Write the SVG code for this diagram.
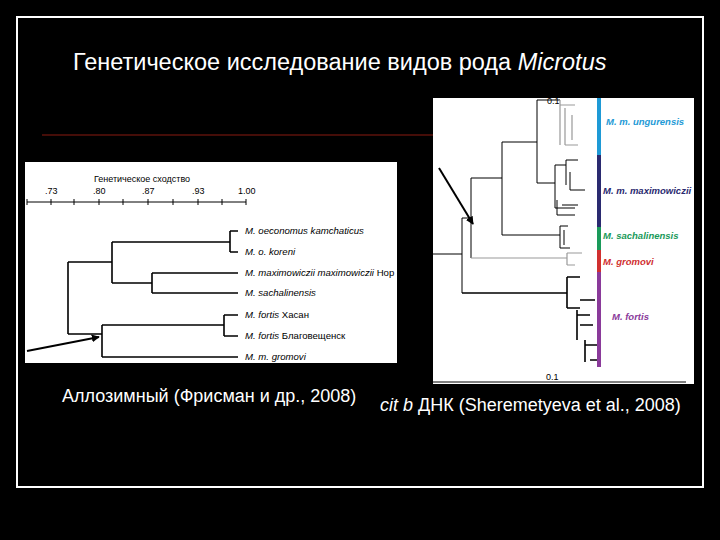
<svg xmlns="http://www.w3.org/2000/svg" width="720" height="540" viewBox="0 0 720 540">
<style>
.w{font-family:"Liberation Sans",Arial,sans-serif;fill:#fff}
.lt{font-family:"Liberation Sans",Arial,sans-serif;font-size:9px;fill:#000}
.lb{font-family:"Liberation Sans",Arial,sans-serif;font-size:9.6px;fill:#000;font-style:italic}
.k{stroke:#000;stroke-width:1.6;fill:none}
.t{stroke:#000;stroke-width:1;fill:none}
.g{stroke:#999;stroke-width:1.2;fill:none}
.rl{font-family:"Liberation Sans",Arial,sans-serif;font-size:9.5px;font-style:italic;font-weight:bold}
</style>
<defs>
<marker id="ah" viewBox="0 0 10 10" refX="9" refY="5" markerWidth="4" markerHeight="4" orient="auto"><path d="M0,0L10,5L0,10z" fill="#000"/></marker>
</defs>
<rect width="720" height="540" fill="#000"/>
<rect x="17" y="17" width="686" height="470" fill="none" stroke="#fff" stroke-width="2"/>
<text class="w" x="73" y="70" font-size="23.5">Генетическое исследование видов рода <tspan font-style="italic">Microtus</tspan></text>
<line x1="42" y1="135" x2="435" y2="135" stroke="#8a1a10" stroke-width="1"/>

<g id="allozyme">
<rect x="25" y="162" width="372" height="201" fill="#fff"/>
<text class="lt" x="94" y="182" fill="#333">Генетическое сходство</text>
<g class="lt"><text x="45" y="194">.73</text><text x="93" y="194">.80</text><text x="142" y="194">.87</text><text x="192" y="194">.93</text><text x="238" y="194">1.00</text></g>
<path class="t" d="M27,202H246M27,199V205M51,199V205M74,199V205M99,199V205M123,199V205M148,199V205M173,199V205M198,199V205M222,199V205M246,199V205"/>
<path class="k" d="M230,231V252M230,231H238M230,252H238M152,273V293M152,273H238M152,293H238M112,242V283M112,242H230M112,283H152M224,315V336M224,315H238M224,336H238M102,325V357M102,325H224M102,357H238M68,262V334M68,262H112M68,334H102"/>
<g class="lb">
<text x="245" y="234">M. oeconomus kamchaticus</text>
<text x="245" y="255">M. o. koreni</text>
<text x="245" y="276">M. maximowiczii maximowiczii <tspan font-style="normal">Нор</tspan></text>
<text x="245" y="296">M. sachalinensis</text>
<text x="245" y="318">M. fortis <tspan font-style="normal">Хасан</tspan></text>
<text x="245" y="339">M. fortis <tspan font-style="normal">Благовещенск</tspan></text>
<text x="245" y="360">M. m. gromovi</text>
</g>
</g>

<g id="cytb">
<rect x="433" y="98" width="261" height="286" fill="#fff"/>
<text class="lt" x="547" y="104" font-size="7">0.1</text>
<path class="t" d="M433,254H462M462,218V293M462,218H471M471,178V258M471,178H502M502,142V235M502,142H537M537,100V183M537,100H560M537,183H555"/>
<path class="g" d="M471,258H567M560,100V145M560,105H575M565,108V145M565,145H578M572,115V140"/>
<path class="t" d="M502,235H560M560,226V248M560,226H568M560,248H570M564,230V245M555,165V208M555,165H566M555,208H575M566,160V185M566,160H578M570,172V190M570,190H585M557,200V215M557,215H575M562,205H578"/>
<path class="g" d="M567,253V265M567,253H582M567,265H575"/>
<path class="k" d="M462,293H567M567,277V308M567,277H580M567,308H580M580,300H595M577,310V340M577,315H590M580,325H593M585,340V362M585,345H597M590,360H597"/>
<rect x="597" y="98" width="4" height="57" fill="#1e9ad6"/>
<rect x="597" y="155" width="4" height="72" fill="#2a2a70"/>
<rect x="597" y="227" width="4" height="23" fill="#1a9a5a"/>
<rect x="597" y="250" width="4" height="22" fill="#d03030"/>
<rect x="597" y="272" width="4" height="95" fill="#8a3a9a"/>
<text class="rl" x="606" y="125" fill="#1e9ad6">M. m. ungurensis</text>
<text class="rl" x="603" y="194" fill="#2a2a70">M. m. maximowiczii</text>
<text class="rl" x="603" y="239" fill="#1a9a5a">M. sachalinensis</text>
<text class="rl" x="603" y="265" fill="#d03030">M. gromovi</text>
<text class="rl" x="612" y="320" fill="#8a3a9a">M. fortis</text>
<line x1="433" y1="382" x2="686" y2="382" stroke="#000" stroke-width="1"/>
<text class="lt" x="546" y="380" font-size="7">0.1</text>
</g>

<g id="connectors">
<line x1="27" y1="351" x2="99" y2="337" stroke="#000" stroke-width="2" marker-end="url(#ah)"/>
<line x1="439" y1="168" x2="473" y2="224" stroke="#000" stroke-width="2" marker-end="url(#ah)"/>
</g>

<text class="w" x="62" y="402" font-size="18">Аллозимный (Фрисман и др., 2008)</text>
<text class="w" x="380" y="411" font-size="18"><tspan font-style="italic">cit b</tspan> ДНК (Sheremetyeva et al., 2008)</text>
</svg>
